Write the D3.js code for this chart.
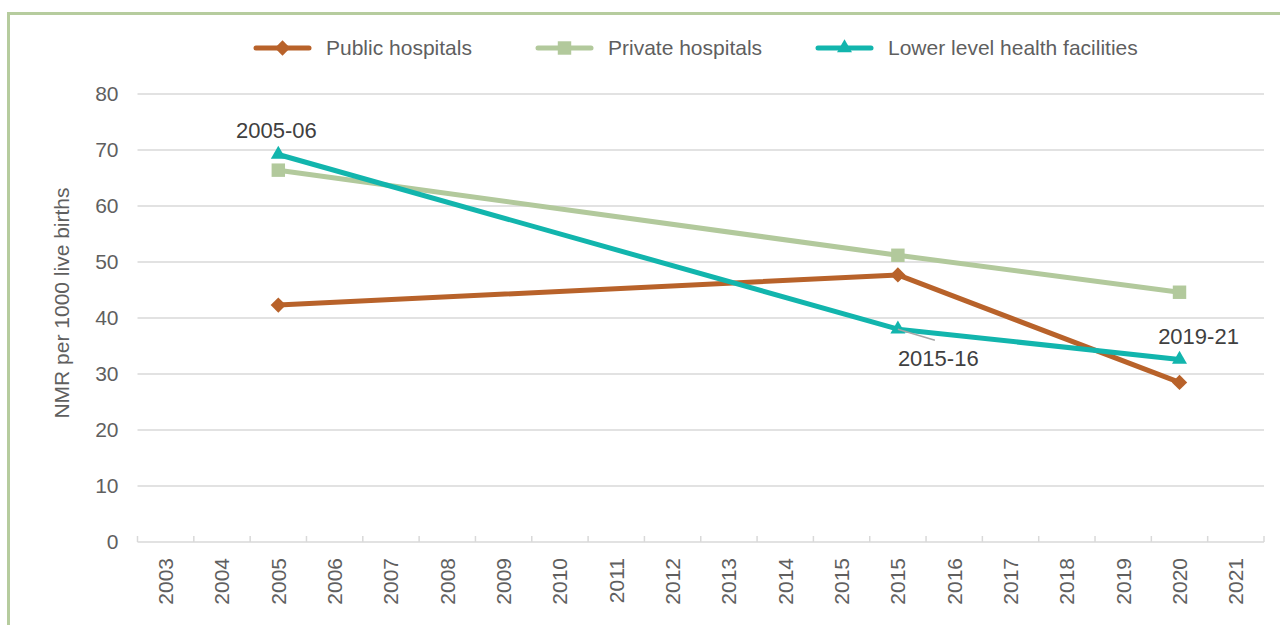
<!DOCTYPE html>
<html>
<head>
<meta charset="utf-8">
<script src="https://cdn.jsdelivr.net/npm/d3@7"></script>
<style>
  body { margin: 0; background: #fff; }
  svg { display: block; font-family: "Liberation Sans", Arial, sans-serif; }
</style>
</head>
<body>
<svg id="chart"></svg>
<script>
// Category labels (note the repeated 2015 in the source)
const years = ["2003", "2004", "2005", "2006", "2007", "2008", "2009", "2010", "2011", "2012",
  "2013", "2014", "2015", "2015", "2016", "2017", "2018", "2019", "2020", "2021"];

// NMR per 1000 live births, null where there is no survey
const publicHosp = [null, null, 42.3, null, null, null, null, null, null, null,
  null, null, null, 47.7, null, null, null, null, 28.5, null];
const privateHosp = [null, null, 66.4, null, null, null, null, null, null, null,
  null, null, null, 51.2, null, null, null, null, 44.6, null];
const lowerLevel = [null, null, 69.2, null, null, null, null, null, null, null,
  null, null, null, 38.0, null, null, null, null, 32.6, null];

const yTicks = [0, 10, 20, 30, 40, 50, 60, 70, 80];
const surveyLabels = ["2005-06", "2015-16", "2019-21"];
const surveyIdx = [2, 13, 18];

const W = 1280, H = 625;
const margin = { top: 94, right: 16, bottom: 83, left: 137.5 }; // plot area 137.5..1264, 94..542
const width = W - margin.left - margin.right;
const height = H - margin.top - margin.bottom;

const svg = d3.select("#chart").attr("width", W).attr("height", H);

// Outer green frame (runs off right and bottom edges)
svg.append("rect")
  .attr("x", 8.5).attr("y", 13.5)
  .attr("width", W).attr("height", H)
  .attr("fill", "none")
  .attr("stroke", "#b6cc9e")
  .attr("stroke-width", 3);

const g = svg.append("g").attr("transform", `translate(${margin.left},${margin.top})`);

const x = d3.scaleBand().domain(d3.range(years.length)).range([0, width]);
const y = d3.scaleLinear().domain([0, 80]).range([height, 0]);
const cx = i => x(i) + x.bandwidth() / 2;

// Gridlines
g.append("g").selectAll("line")
  .data(yTicks.filter(d => d > 0))
  .enter().append("line")
  .attr("x1", 0).attr("x2", width)
  .attr("y1", d => y(d)).attr("y2", d => y(d))
  .attr("stroke", "#d9d9d9").attr("stroke-width", 1.5);

// Y-axis labels
g.append("g").selectAll("text")
  .data(yTicks)
  .enter().append("text")
  .attr("x", -19).attr("y", d => y(d))
  .attr("dy", "0.35em")
  .attr("text-anchor", "end")
  .attr("font-size", 21)
  .attr("fill", "#5f5f5f")
  .text(d => d);

// X-axis with tick marks at category boundaries
const xAxis = g.append("g").attr("transform", `translate(0,${height})`);
xAxis.append("line")
  .attr("x1", 0).attr("x2", width)
  .attr("stroke", "#d9d9d9").attr("stroke-width", 1.5);
xAxis.selectAll(".tk")
  .data(d3.range(years.length + 1))
  .enter().append("line")
  .attr("x1", i => i * x.step()).attr("x2", i => i * x.step())
  .attr("y1", 0).attr("y2", -6)
  .attr("stroke", "#d9d9d9").attr("stroke-width", 1.5);
xAxis.selectAll(".lbl")
  .data(years)
  .enter().append("text")
  .attr("transform", (d, i) => `translate(${cx(i)},16) rotate(-90)`)
  .attr("dy", "0.35em")
  .attr("text-anchor", "end")
  .attr("font-size", 21)
  .attr("fill", "#5f5f5f")
  .text(d => d);

// Y-axis title
svg.append("text")
  .attr("transform", `translate(69,303) rotate(-90)`)
  .attr("text-anchor", "middle")
  .attr("font-size", 21)
  .attr("fill", "#5f5f5f")
  .text("NMR per 1000 live births");

const series = [
  { name: "Public hospitals", values: publicHosp, color: "#b8622a", shape: d3.symbolDiamond2, size: 150 },
  { name: "Private hospitals", values: privateHosp, color: "#b2c99c", shape: d3.symbolSquare2, size: 230 },
  { name: "Lower level health facilities", values: lowerLevel, color: "#12b5ad", shape: d3.symbolTriangle2, size: 160 }
];

const line = d3.line().x(d => cx(d.i)).y(d => y(d.v));

// Draw private first, then public, then lower level on top
[series[1], series[0], series[2]].forEach(s => {
  const pts = s.values.map((v, i) => ({ i, v })).filter(d => d.v != null);
  g.append("path")
    .datum(pts)
    .attr("d", line)
    .attr("fill", "none")
    .attr("stroke", s.color)
    .attr("stroke-width", 5)
    .attr("stroke-linejoin", "round");
  g.selectAll(null)
    .data(pts)
    .enter().append("path")
    .attr("transform", d => `translate(${cx(d.i)},${y(d.v)})`)
    .attr("d", d3.symbol().type(s.shape).size(s.size))
    .attr("fill", s.color);
});

// Survey period annotations on the lower-level series
const ann = g.append("g").attr("font-size", 22).attr("fill", "#404040");
ann.append("text")
  .attr("x", cx(surveyIdx[0]) - 2).attr("y", y(lowerLevel[surveyIdx[0]]) - 16)
  .attr("text-anchor", "middle")
  .text(surveyLabels[0]);
ann.append("line")
  .attr("x1", cx(surveyIdx[1])).attr("y1", y(lowerLevel[surveyIdx[1]]))
  .attr("x2", cx(surveyIdx[1]) + 37).attr("y2", y(lowerLevel[surveyIdx[1]]) + 11)
  .attr("stroke", "#a6a6a6").attr("stroke-width", 1.5);
ann.append("text")
  .attr("x", cx(surveyIdx[1])).attr("y", y(lowerLevel[surveyIdx[1]]) + 37)
  .text(surveyLabels[1]);
ann.append("text")
  .attr("x", cx(surveyIdx[2]) + 19).attr("y", y(lowerLevel[surveyIdx[2]]) - 15)
  .attr("text-anchor", "middle")
  .text(surveyLabels[2]);

// Legend
const legendX = [256, 538, 818];
const legend = svg.append("g");
series.forEach((s, k) => {
  const lg = legend.append("g").attr("transform", `translate(${legendX[k]},48)`);
  lg.append("line")
    .attr("x1", 0).attr("x2", 53)
    .attr("stroke", s.color).attr("stroke-width", 5)
    .attr("stroke-linecap", "round");
  lg.append("path")
    .attr("transform", "translate(26.5,0)")
    .attr("d", d3.symbol().type(s.shape).size(s.size))
    .attr("fill", s.color);
  lg.append("text")
    .attr("x", 70).attr("dy", "0.35em")
    .attr("font-size", 21)
    .attr("fill", "#5f5f5f")
    .text(s.name);
});
</script>
</body>
</html>
